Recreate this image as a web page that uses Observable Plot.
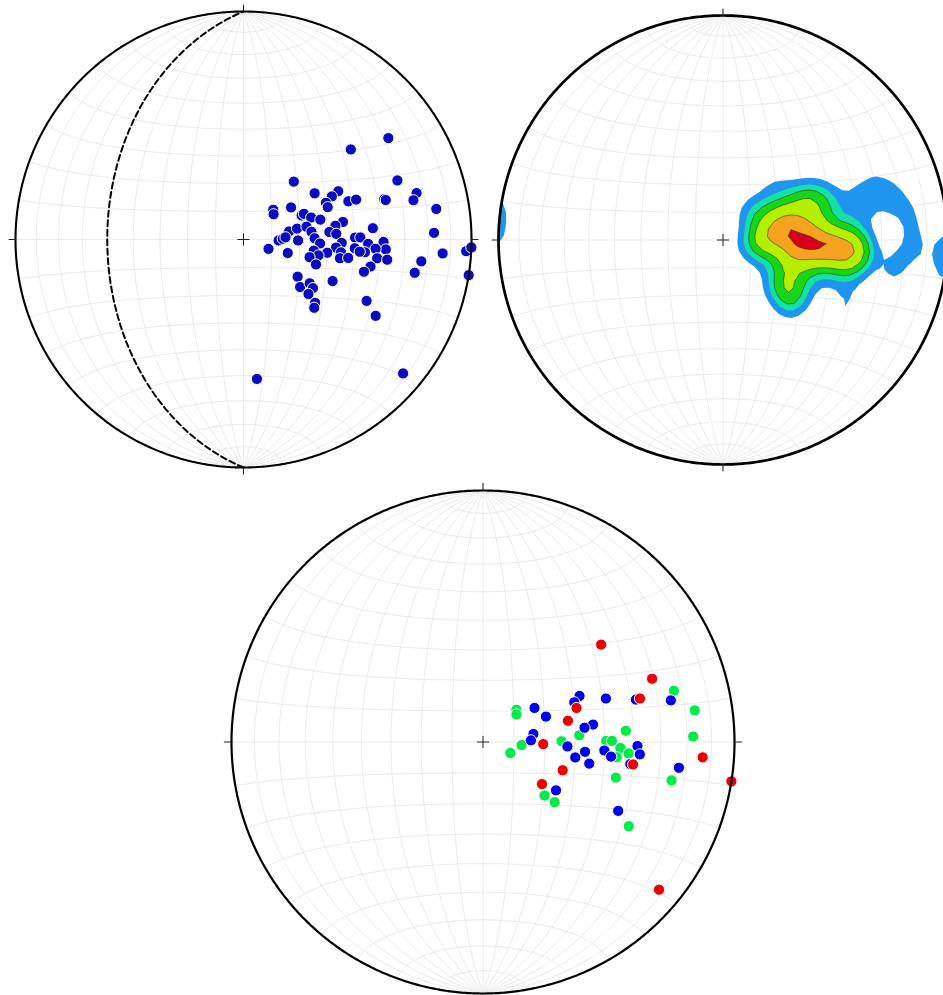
<!DOCTYPE html>
<html><head><meta charset="utf-8">
<script src="https://cdn.jsdelivr.net/npm/d3@7"></script>
<script src="https://cdn.jsdelivr.net/npm/@observablehq/plot@0.6"></script>
<style>
html,body{margin:0;padding:0;overflow:hidden;background:#fff;width:943px;height:995px}
#wrap{position:relative;width:943px;height:995px;overflow:hidden;background:#fff}
</style></head><body><div id="wrap"></div>
<script>
// Poles, [trend, plunge] in degrees (lower hemisphere)
const polesAll = [
  [55,23.5],[50,38.5],[41,62.5],[69,28.5],[75,22.5],[77,24.5],[57,59.5],[63,51.5],[64,54.5],[66,57.5],
  [69,57.5],[70,49.5],[70.5,46.5],[74,36],[74.5,35.5],[81,15.5],[45,75],[50,76],[56,69.5],[67.5,67.5],
  [67,66.5],[72,64.5],[75.5,61.5],[80,53.5],[81.5,56.5],[85,42.5],[88,17.5],[80,73.5],[78.5,70.5],[78.5,67],
  [83.5,65.5],[85,59],[86.5,56.5],[89,64.5],[93,62.5],[91,70.5],[91.5,77.5],[89,76],[87,75],[110.5,80.5],
  [107,73.5],[92,54.5],[89,49.5],[89,47.5],[92,44.5],[91,38.5],[94,37.5],[94,41.5],[96,45.5],[94.5,49.5],
  [96,47.5],[95,56.5],[97.5,54.5],[99,59.5],[99,64.5],[102,62.5],[105,65.5],[109,62.5],[101,54.5],[100,51.5],
  [98,40.5],[98,36.5],[102,42.5],[105,44.5],[94,13.5],[97,22.5],[101,24.5],[93,2.5],[92,0],[99,0],
  [124.5,66.5],[130,63.5],[123.5,61.5],[125,59.5],[130,59.5],[131.5,55.5],[134,54.5],[115,54.5],[116.5,39.5],[120,33.5],
  [174.5,38.5],[130,9.5]
];
const polesRed = [
  [50.5,39],[69.5,29],[74.5,35.5],[70,57.5],[76,61.5],[92,70.5],[109.5,62.5],[125.5,66.5],[98.5,39.5],[94,13.5],
  [99,0],[130,9.5]
];
const polesBlue = [
  [64.5,55],[66.5,57.5],[70.5,47],[74.5,37],[77.5,24.5],[56.5,70],[68,68],[81,53.5],[82,56.5],[81,73.5],
  [88,74.5],[93,62.5],[95.5,56.5],[99.5,59.5],[101.5,54.5],[94,50],[96.5,47.5],[91.5,38.5],[94.5,37.5],[98.5,40.5],
  [97.5,22.5],[123.5,61.5],[117,39.5]
];
const polesGreen = [
  [75,22.5],[81.5,16],[46,75],[50.5,76],[85.5,42.5],[86,58.5],[88.5,17.5],[89.5,64.5],[94.5,77.5],[112,80.5],
  [89.5,49.5],[89.5,47.5],[92.5,44.5],[96.5,45.5],[94.5,41.5],[105,44.5],[101.5,24.5],[131,63.5],[130,59.5],[120,33.5]
];
// dashed plane (right-hand-rule strike / dip)
const planeStrike = 180, planeDip = 40;
// density contours: levels as fractions of the peak density, lowest band first
const levelFractions = [0.125, 0.25, 0.37, 0.53, 0.78, 0.96];
const bandColors = ["#1f95f0", "#14e2a4", "#16d616", "#b6ee00", "#f6a31f", "#d5001c"];
const kambSigma = 1.1;

const rad = Math.PI / 180;
function toVec([t, p]) {
  return [Math.sin(p * rad), Math.cos(p * rad) * Math.sin(t * rad), Math.cos(p * rad) * Math.cos(t * rad)];
}
function toLonLat(tp) {
  const [X, Y, Z] = toVec(tp);
  return [Math.atan2(Y, X) / rad, Math.asin(Math.max(-1, Math.min(1, Z))) / rad];
}
const graticule = d3.geoGraticule().extent([[-90, -90], [90, 90]]).step([10, 10])();
const TICK = 3.3;
const ticks = {type: "MultiLineString", coordinates: [
  [[0, 90], [180, 90 - TICK]], [[0, -90], [180, -90 + TICK]], [[90, 0], [90 + TICK, 0]], [[-90, 0], [-90 - TICK, 0]]
]};
const rim = d3.geoCircle().center([0, 0]).radius(90).precision(0.5)();

const wrap = document.getElementById("wrap");

function net({cx, cy, R, rimWidth, marks}) {
  const S = Math.ceil(2 * R + 30);
  const proj = d3.geoAzimuthalEqualArea().scale(R / Math.SQRT2).translate([S / 2, S / 2]).clipAngle(97).precision(0.1);
  const svg = Plot.plot({
    width: S, height: S, margin: 0, projection: proj,
    style: {background: "transparent", overflow: "visible"},
    marks: [
      Plot.geo(graticule, {stroke: "#ebebeb", strokeWidth: 1}),
      ...marks,
      Plot.geo(rim, {fill: "none", stroke: "#000", strokeWidth: rimWidth}),
      Plot.geo(ticks, {stroke: "#222", strokeWidth: 1.1}),
      Plot.dot([[0, 0]], {x: d => d[0], y: d => d[1], symbol: "plus", r: 4, stroke: "#222", strokeWidth: 1})
    ]
  });
  svg.style.position = "absolute";
  svg.style.left = (cx - S / 2) + "px";
  svg.style.top = (cy - S / 2) + "px";
  wrap.appendChild(svg);
}

function poleDots(poles, color) {
  return Plot.dot(poles.map(toLonLat), {x: d => d[0], y: d => d[1], r: 5.6, fill: color, stroke: "#fff", strokeWidth: 1});
}

// ---- exponential Kamb density on a lon/lat grid ----
function density(poles, N, sigma) {
  const vecs = poles.map(toVec);
  const n = vecs.length;
  const f = 2 * (1 + n / (sigma * sigma));
  const units = Math.sqrt(n * (f / 2 - 1) / (f * f));
  const step = 180 / (N - 1);
  const values = new Float64Array(N * N);
  for (let j = 0; j < N; j++) {
    const lat = (90 - j * step) * rad;
    for (let i = 0; i < N; i++) {
      const lon = (-90 + i * step) * rad;
      const gx = Math.cos(lat) * Math.cos(lon), gy = Math.cos(lat) * Math.sin(lon), gz = Math.sin(lat);
      let s = 0;
      for (const [x, y, z] of vecs) s += Math.exp(f * (Math.abs(gx * x + gy * y + gz * z) - 1));
      values[i + j * N] = Math.max(0, (s - 0.5) / units);
    }
  }
  return {values, step, N};
}
function contourFeatures(grid, levels) {
  const {values, step, N} = grid;
  const cl = v => Math.max(-90, Math.min(90, v));
  const conv = ([x, y]) => [cl(-90 + (x - 0.5) * step), cl(90 - (y - 0.5) * step)];
  const orient = (ring, small) => {
    const a = d3.geoArea({type: "Polygon", coordinates: [ring]});
    return (a < 2 * Math.PI) === small ? ring : ring.slice().reverse();
  };
  return d3.contours().size([N, N]).thresholds(levels)(values).map((c, k) => ({
    type: "Feature", properties: {value: c.value, k},
    geometry: {type: "MultiPolygon", coordinates: c.coordinates.map(poly =>
      poly.map((ring, r) => orient(ring.map(conv), r === 0)))}
  })).filter(f => f.geometry.coordinates.length);
}

const grid = density(polesAll, 70, kambSigma);
const dmax = d3.max(grid.values);
const levels = levelFractions.map(q => q * dmax);
const feats = contourFeatures(grid, levels);

// ---- top left: poles + dashed plane ----
const plane = {type: "LineString", coordinates: [
  toLonLat([planeStrike, 0]), toLonLat([planeStrike + 90, planeDip]), toLonLat([planeStrike + 180, 0])
]};
net({cx: 242.5, cy: 239, R: 228, rimWidth: 2.1, marks: [
  Plot.geo(plane, {stroke: "#000", strokeWidth: 2, strokeDasharray: "6,3.5"}),
  poleDots(polesAll, "#0a0ac2")
]});

// ---- top right: density contours ----
net({cx: 722.5, cy: 239, R: 224.5, rimWidth: 2.7, marks: [
  Plot.geo(feats, {fill: d => bandColors[d.properties.k], stroke: "none"}),
  Plot.geo(feats.filter(d => d.properties.k >= 2), {fill: "none", stroke: "#26401a", strokeOpacity: 0.7, strokeWidth: 0.9})
]});

// ---- bottom: three groups ----
net({cx: 482.5, cy: 741, R: 251.5, rimWidth: 2.2, marks: [
  poleDots(polesGreen, "#00ec48"),
  poleDots(polesBlue, "#0000ee"),
  poleDots(polesRed, "#ee0000")
]});
</script></body></html>
